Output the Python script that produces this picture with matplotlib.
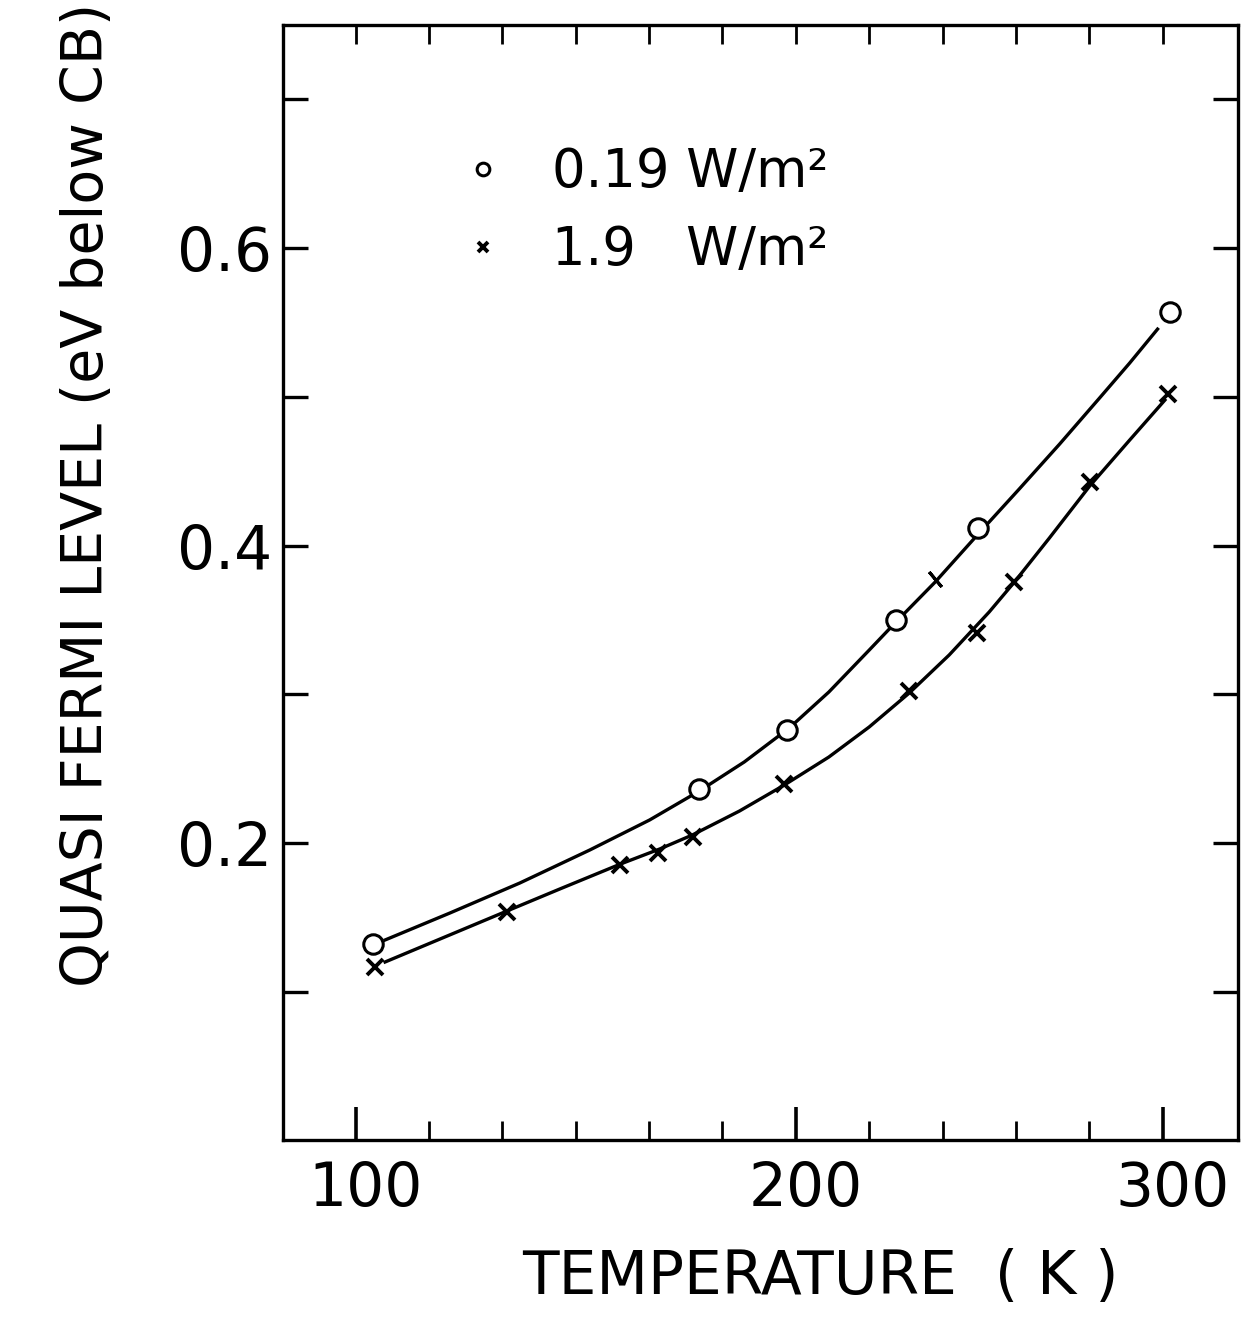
import numpy as np
import matplotlib
matplotlib.use("Agg")
import matplotlib.pyplot as plt
from matplotlib.transforms import ScaledTranslation

plt.rcParams['font.family'] = ['DejaVu Sans']

# --- data ---
# 0.19 W/m^2 (open circles)
t_low = [104.0, 178.0, 197.9, 227.2, 249.7, 301.9]
e_low = [0.132, 0.236, 0.276, 0.350, 0.412, 0.557]
# smooth hand-drawn curve through them
t_low_curve = [106.7, 121.4, 137.3, 153.2, 166.8, 178.1, 188.3, 198.5, 209.0,
               220.0, 227.3, 238.0, 249.7, 260.9, 271.9, 282.8, 291.0, 298.6]
e_low_curve = [0.1348, 0.1529, 0.1731, 0.1953, 0.2155, 0.2350, 0.2545, 0.2773,
               0.3015, 0.3297, 0.3486, 0.3755, 0.4077, 0.4380, 0.4682, 0.4992,
               0.5227, 0.5455]
# small tick mark drawn on the upper curve
t_tick = [238.0]
e_tick = [0.3775]

# 1.9 W/m^2 (crosses)
t_high = [104.3, 134.3, 160.1, 168.7, 176.6, 197.4, 230.9, 249.5, 259.6, 280.1, 301.5]
e_high = [0.1164, 0.1538, 0.1852, 0.1935, 0.2038, 0.2397, 0.3024, 0.341, 0.3757, 0.4429, 0.5017]
t_high_curve = [106.7, 121.4, 134.4, 146.4, 160.2, 169.1, 176.5, 187.2, 197.4,
                209.0, 220.0, 230.9, 241.8, 252.7, 259.6, 269.1, 280.1, 291.0, 300.6]
e_high_curve = [0.1200, 0.1382, 0.1543, 0.1691, 0.1859, 0.1960, 0.2054, 0.2215,
                0.2390, 0.2578, 0.2780, 0.3008, 0.3264, 0.3553, 0.3755, 0.4050,
                0.4400, 0.4709, 0.4978]

x_labels = [100, 200, 300]
y_ticks = [0.1, 0.2, 0.3, 0.4, 0.5, 0.6, 0.7]
y_ticklabels = ['', '0.2', '', '0.4', '', '0.6', '']


# the original temperature axis is not linear: 6 tick steps from 100 to 200,
# 5 steps from 200 to 300
def fwd(t):
    t = np.asarray(t, dtype=float)
    return np.where(t < 200, (t - 100) / (100 / 6), 6 + (t - 200) / 20)


def inv(u):
    u = np.asarray(u, dtype=float)
    return np.where(u < 6, 100 + u * 100 / 6, 200 + (u - 6) * 20)


tick_pos = inv(np.arange(12))
minor_pos = [p for p in tick_pos if round(float(p)) not in x_labels]

fig = plt.figure(figsize=(12.41, 13.20), dpi=100)
ax = fig.add_axes([0.228, 0.136, 0.7695, 0.8451])
ax.set_xscale('function', functions=(fwd, inv))
ax.set_xlim(83.5, 320.5)
ax.set_ylim(0, 0.75)

ax.plot(t_low_curve, e_low_curve, color='black', lw=2.4, zorder=2)
ax.plot(t_high_curve, e_high_curve, color='black', lw=2.4, zorder=2)
ax.plot(t_low, e_low, 'o', ms=14, mfc='white', mec='black', mew=2.2,
        label='0.19 W/m²', zorder=3)
ax.plot(t_high, e_high, 'x', ms=12, mec='black', mew=2.8,
        label='1.9   W/m²', zorder=3)
ax.plot(t_tick, e_tick, marker=(2, 2, 40), ms=14, mec='black', mew=2.2,
        ls='none', zorder=3)

# spines
for s in ax.spines.values():
    s.set_linewidth(2.4)

# x ticks bottom
ax.set_xticks(x_labels)
ax.set_xticklabels([str(v) for v in x_labels])
ax.set_xticks(minor_pos, minor=True)
ax.xaxis.set_minor_formatter(plt.NullFormatter())
ax.tick_params(axis='x', which='major', direction='in', length=24, width=2.6,
               labelsize=43, pad=14)
ax.tick_params(axis='x', which='minor', direction='in', length=14, width=2.0)
shift = ScaledTranslation(10 / 100, 0, fig.dpi_scale_trans)
for lab in ax.get_xticklabels():
    lab.set_transform(lab.get_transform() + shift)

# y ticks both sides
ax.set_yticks(y_ticks)
ax.set_yticklabels(y_ticklabels)
ax.tick_params(axis='y', which='major', direction='in', length=18, width=2.4,
               labelsize=43, pad=8, right=True)

# top ticks, all the same length
ax_top = ax.twiny()
ax_top.set_xscale('function', functions=(fwd, inv))
ax_top.set_xlim(ax.get_xlim())
ax_top.set_xticks(tick_pos)
ax_top.set_xticklabels([])
ax_top.tick_params(axis='x', direction='in', length=14, width=2.0)
ax_top.xaxis.set_minor_locator(plt.NullLocator())
for s in ax_top.spines.values():
    s.set_visible(False)

leg = ax.legend(loc='center left', bbox_to_anchor=(0.182, 0.833), frameon=False,
                fontsize=38, handlelength=1.0, handletextpad=0.8,
                labelspacing=0.5, borderpad=0, borderaxespad=0, markerscale=0.65)

fig.text(88 / 1241, 1 - 495 / 1320, 'QUASI FERMI LEVEL (eV below CB)',
         rotation=90, ha='center', va='center', fontsize=41)
fig.text(820 / 1241, 1 - 1278 / 1320, 'TEMPERATURE  ( K )',
         ha='center', va='center', fontsize=43)

fig.savefig('out.png', dpi=100)
